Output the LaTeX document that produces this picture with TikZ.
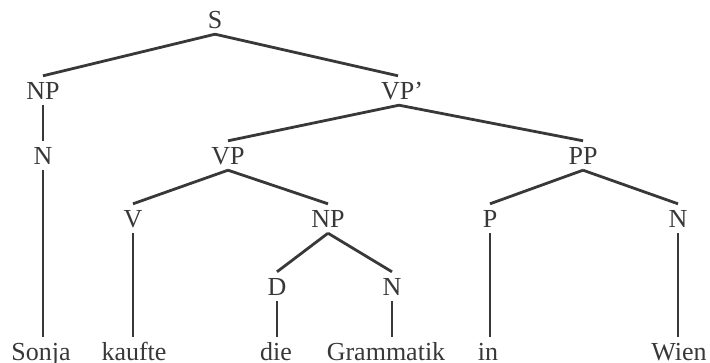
\documentclass[tikz,border=0pt]{standalone}
\usepackage{fontspec}
\setmainfont{Liberation Serif}
\definecolor{ink}{HTML}{383838}
\begin{document}
\begin{tikzpicture}[x=1pt,y=-1pt,
  cat/.style={anchor=base,inner xsep=1pt,inner ysep=6pt,text height=17pt,text depth=0pt,
    text=ink,font=\fontsize{26}{30}\selectfont},
  leaf/.style={cat},
  branch/.style={draw=ink,line width=2.8pt}]
\useasboundingbox (0,0) rectangle (710,362);
% categories, placed on their baselines
\node[cat] (s)   at (215,28)  {S};
\node[cat] (np1) at (43,99)   {NP};
\node[cat] (vpp) at (402,99)  {VP’};
\node[cat] (n1)  at (43,164)  {N};
\node[cat] (vp)  at (228,164) {VP};
\node[cat] (pp)  at (583,164) {PP};
\node[cat] (v)   at (133,227) {V};
\node[cat] (np2) at (328,227) {NP};
\node[cat] (p)   at (490,227) {P};
\node[cat] (n3)  at (678,227) {N};
\node[cat] (d)   at (277,295) {D};
\node[cat] (n2)  at (392,295) {N};
% words
\node[leaf] (w1) at (41,360)  {Sonja};
\node[leaf] (w2) at (134,360) {kaufte};
\node[leaf] (w3) at (276,360) {die};
\node[leaf] (w4) at (386,360) {Grammatik};
\node[leaf] (w5) at (488,360) {in};
\node[leaf] (w6) at (679,360) {Wien};
% branches
\draw[branch] (s.south) -- (np1.north);
\draw[branch] (s.south) -- ([xshift=-4pt]vpp.north);
\draw[branch] (np1.south) -- (n1.north);
\draw[branch] ([xshift=-3pt]vpp.south) -- (vp.north);
\draw[branch] ([xshift=-3pt]vpp.south) -- (pp.north);
\draw[branch] (vp.south) -- (v.north);
\draw[branch] (vp.south) -- (np2.north);
\draw[branch] (pp.south) -- (p.north);
\draw[branch] (pp.south) -- (n3.north);
\draw[branch] (np2.south) -- (d.north);
\draw[branch] (np2.south) -- (n2.north);
\draw[branch] (n1.south) -- (n1.south |- w1.north);
\draw[branch] (v.south) -- (v.south |- w2.north);
\draw[branch] (d.south) -- (d.south |- w3.north);
\draw[branch] (n2.south) -- (n2.south |- w4.north);
\draw[branch] (p.south) -- (p.south |- w5.north);
\draw[branch] (n3.south) -- (n3.south |- w6.north);
\end{tikzpicture}
\end{document}
